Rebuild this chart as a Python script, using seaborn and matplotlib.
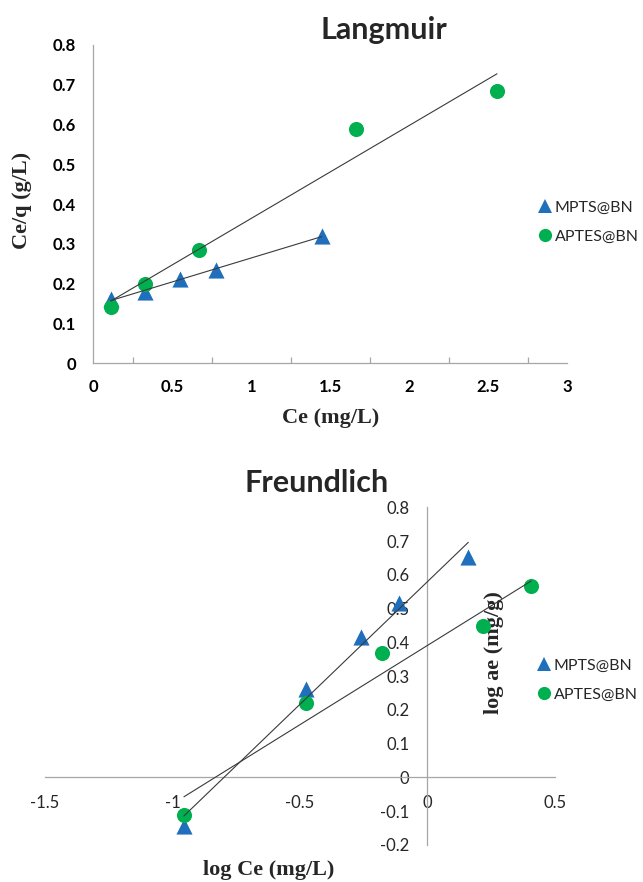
import numpy as np
import pandas as pd
import matplotlib
matplotlib.use("Agg")
import matplotlib.pyplot as plt
import seaborn as sns
from matplotlib.ticker import FixedLocator, FixedFormatter
from matplotlib.lines import Line2D

# ---------------- data ----------------
series_names = ["MPTS@BN", "APTES@BN"]

lang_mpts_ce = [0.109, 0.328, 0.551, 0.777, 1.445]
lang_mpts_ceq = [0.161, 0.180, 0.213, 0.234, 0.320]
lang_aptes_ce = [0.112, 0.330, 0.666, 1.664, 2.555]
lang_aptes_ceq = [0.142, 0.198, 0.284, 0.588, 0.685]

fr_mpts_logce = [-0.955, -0.477, -0.259, -0.111, 0.161]
fr_mpts_logqe = [-0.145, 0.261, 0.417, 0.517, 0.654]
fr_aptes_logce = [-0.955, -0.476, -0.177, 0.220, 0.408]
fr_aptes_logqe = [-0.111, 0.219, 0.367, 0.449, 0.568]

lang_xticks = [0, 0.5, 1, 1.5, 2, 2.5, 3]
lang_xtick_labels = ["0", "0.5", "1", "1.5", "2", "2.5", "3"]
lang_xminor = [0.25, 0.75, 1.25, 1.75, 2.25, 2.75]
lang_yticks = [0, 0.1, 0.2, 0.3, 0.4, 0.5, 0.6, 0.7, 0.8]
lang_ytick_labels = ["0", "0.1", "0.2", "0.3", "0.4", "0.5", "0.6", "0.7", "0.8"]

fr_xticks = [-1.5, -1, -0.5, 0, 0.5]
fr_xtick_labels = ["-1.5", "-1", "-0.5", "0", "0.5"]
fr_yticks = [-0.2, -0.1, 0, 0.1, 0.2, 0.3, 0.4, 0.5, 0.6, 0.7, 0.8]
fr_ytick_labels = ["-0.2", "-0.1", "0", "0.1", "0.2", "0.3", "0.4", "0.5", "0.6", "0.7", "0.8"]

# ---------------- style ----------------
sns.set_style("white")
plt.rcParams["font.family"] = ["Lato", "DejaVu Sans"]
plt.rcParams["axes.unicode_minus"] = False

BLUE = "#1F6FBD"
GREEN = "#00B050"
LINE = "#3A3A3A"
SPINE = "#A6A6A6"
W, H = 643, 882

fig = plt.figure(figsize=(W / 100, H / 100), dpi=100)
fig.patch.set_facecolor("white")

def px_axes(l, r, t, b):
    return [l / W, 1 - b / H, (r - l) / W, (b - t) / H]

ax1 = fig.add_axes(px_axes(93.3, 567.3, 44.9, 363.3))
ax2 = fig.add_axes(px_axes(45.0, 554.7, 507.3, 844.8))

def draw_series(ax, x_m, y_m, x_a, y_a):
    sns.scatterplot(x=x_m, y=y_m, ax=ax, marker="^", s=135, color=BLUE,
                    linewidth=0, zorder=3)
    sns.scatterplot(x=x_a, y=y_a, ax=ax, marker="o", s=118, color=GREEN,
                    linewidth=0, zorder=3)
    sns.regplot(x=np.array(x_m), y=np.array(y_m), ax=ax, scatter=False, ci=None,
                color=LINE, line_kws=dict(lw=0.8, zorder=4))
    sns.regplot(x=np.array(x_a), y=np.array(y_a), ax=ax, scatter=False, ci=None,
                color=LINE, line_kws=dict(lw=0.8, zorder=4))

# ---------------- Langmuir ----------------
draw_series(ax1, lang_mpts_ce, lang_mpts_ceq, lang_aptes_ce, lang_aptes_ceq)
ax1.set_xlim(0, 3)
ax1.set_ylim(0, 0.8)
for s in ["top", "right"]:
    ax1.spines[s].set_visible(False)
for s in ["left", "bottom"]:
    ax1.spines[s].set_color(SPINE)
    ax1.spines[s].set_linewidth(0.9)
ax1.xaxis.set_major_locator(FixedLocator(lang_xticks))
ax1.xaxis.set_major_formatter(FixedFormatter(lang_xtick_labels))
ax1.xaxis.set_minor_locator(FixedLocator(lang_xminor))
ax1.yaxis.set_major_locator(FixedLocator(lang_yticks))
ax1.yaxis.set_major_formatter(FixedFormatter(lang_ytick_labels))
ax1.tick_params(axis="both", which="both", direction="in", length=4.5, width=0.9,
                color=SPINE, labelsize=12, labelcolor="black")
ax1.tick_params(axis="x", which="major", pad=11.5)
ax1.tick_params(axis="y", which="major", pad=12.5)
ax1.tick_params(axis="x", which="minor", bottom=True)
for lab in ax1.get_xticklabels() + ax1.get_yticklabels():
    lab.set_fontweight("bold")
ax1.set_xlabel("Ce (mg/L)", family="Liberation Serif", weight="bold", fontsize=16,
               va="center")
ax1.xaxis.set_label_coords(0.5, (363.3 - 418) / 318.4)
ax1.set_ylabel("Ce/q (g/L)", family="Liberation Serif", weight="bold", fontsize=16,
               va="center")
ax1.yaxis.set_label_coords((22.3 - 93.3) / 474, (363.3 - 200) / 318.4)

fig.text(383.7 / W, 1 - 30 / H, "Langmuir", ha="center", va="center",
         fontsize=22, fontweight="bold")

# ---------------- Freundlich ----------------
draw_series(ax2, fr_mpts_logce, fr_mpts_logqe, fr_aptes_logce, fr_aptes_logqe)
ax2.set_xlim(-1.5, 0.5)
ax2.set_ylim(-0.2, 0.8)
for s in ["top", "right"]:
    ax2.spines[s].set_visible(False)
ax2.spines["left"].set_position(("data", 0))
ax2.spines["bottom"].set_position(("data", 0))
for s in ["left", "bottom"]:
    ax2.spines[s].set_color(SPINE)
    ax2.spines[s].set_linewidth(0.9)
ax2.xaxis.set_major_locator(FixedLocator(fr_xticks))
ax2.xaxis.set_major_formatter(FixedFormatter(fr_xtick_labels))
ax2.yaxis.set_major_locator(FixedLocator(fr_yticks))
ax2.yaxis.set_major_formatter(FixedFormatter(fr_ytick_labels))
ax2.tick_params(axis="x", direction="in", length=4, width=0.9, color=SPINE,
                labelsize=12, pad=12.5)
ax2.tick_params(axis="y", direction="out", length=4, width=0.9, color=SPINE,
                labelsize=12, pad=9)
ax2.set_xlabel("log Ce (mg/L)", family="Liberation Serif", weight="bold",
               fontsize=16, va="center")
ax2.xaxis.set_label_coords((269 - 45) / 509.7, (844.8 - 870) / 337.5)
ax2.set_ylabel("log ae (mg/g)", family="Liberation Serif", weight="bold",
               fontsize=16, va="center")
ax2.yaxis.set_label_coords((494 - 45) / 509.7, (844.8 - 653) / 337.5)

fig.text(316.2 / W, 1 - 483.3 / H, "Freundlich", ha="center", va="center",
         fontsize=22, fontweight="bold")

# ---------------- legends ----------------
def make_handles():
    return [
        Line2D([], [], marker="^", linestyle="none", color=BLUE, markersize=10,
               markeredgewidth=0),
        Line2D([], [], marker="o", linestyle="none", color=GREEN, markersize=9.5,
               markeredgewidth=0),
    ]

for xm, yc in [(545, 222), (544, 680)]:
    fig.legend(make_handles(), series_names, loc="center left",
               bbox_to_anchor=((xm - 6.0) / W, 1 - yc / H),
               frameon=False, fontsize=11.5, handlelength=0.75,
               handletextpad=0.25, borderpad=0, borderaxespad=0,
               labelspacing=0.95)

fig.savefig("out.png", dpi=100, facecolor="white")
